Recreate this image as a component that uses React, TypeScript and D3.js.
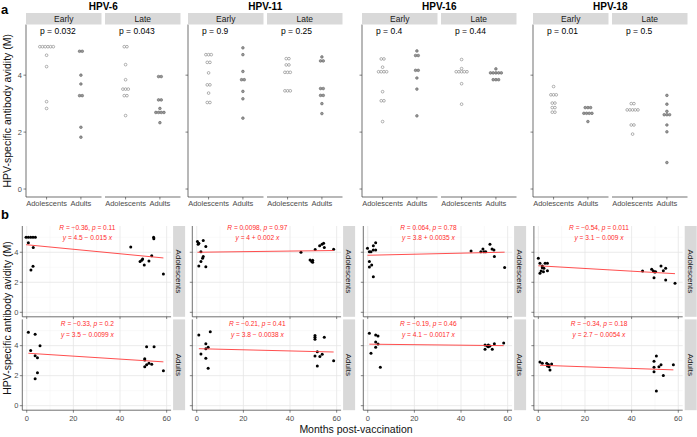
import React from 'react';
import * as d3 from 'd3';

// ---------- shared categories ----------
const hpvTypes = ['HPV-6', 'HPV-11', 'HPV-16', 'HPV-18'];
const phases = ['Early', 'Late'];
const groups = ['Adolescents', 'Adults'];

// ---------- panel a: avidity values (dot plots) ----------
const a6EarlyAdol = [5, 5, 5, 5, 5, 5, 4.7, 4.3, 3.07, 2.83];
const a6EarlyAdult = [4.84, 4.84, 4.0, 3.69, 3.28, 3.28, 2.17, 1.82];
const a6LateAdol = [5, 5, 4.37, 3.84, 3.51, 3.51, 3.51, 3.28, 3.28, 2.58];
const a6LateAdult = [3.95, 3.95, 3.13, 3.13, 2.83, 2.69, 2.69, 2.69, 2.69, 2.33];

const a11EarlyAdol = [4.72, 4.72, 4.72, 4.45, 4.45, 4.08, 3.66, 3.66, 3.37, 3.04, 3.04];
const a11EarlyAdult = [4.96, 4.72, 4.13, 3.84, 3.84, 3.43, 3.17, 2.49];
const a11LateAdol = [4.58, 4.58, 4.36, 4.36, 4.1, 4.1, 4.1, 3.45, 3.45, 3.45];
const a11LateAdult = [4.64, 4.5, 4.5, 3.53, 3.53, 3.29, 3.29, 3.0, 2.65];

const a16EarlyAdol = [4.57, 4.57, 4.28, 4.12, 4.12, 4.12, 4.12, 3.42, 3.1, 3.1, 2.37];
const a16EarlyAdult = [4.85, 4.69, 4.69, 4.17, 4.17, 3.9, 3.51, 2.57];
const a16LateAdol = [4.55, 4.23, 4.12, 4.12, 4.12, 4.12, 4.12, 3.7, 2.98];
const a16LateAdult = [4.22, 4.08, 4.08, 4.08, 4.08, 4.08, 3.84, 3.84, 3.84];

const a18EarlyAdol = [3.6, 3.31, 3.31, 3.31, 3.02, 3.02, 2.86, 2.86, 2.7, 2.7];
const a18EarlyAdult = [2.86, 2.86, 2.86, 2.66, 2.66, 2.66, 2.66, 2.37];
const a18LateAdol = [3.0, 3.0, 2.78, 2.78, 2.78, 2.78, 2.78, 2.25, 2.25, 1.93];
const a18LateAdult = [3.29, 2.98, 2.73, 2.61, 2.61, 2.61, 2.25, 2.01, 0.93];

const aPValues = [
  ['0.032', '0.043'],
  ['0.9', '0.25'],
  ['0.4', '0.44'],
  ['0.01', '0.5'],
];
const aYTicks = [0, 2, 4];

// ---------- panel b: [months, avidity] ----------
const b6Adol: [number, number][] = [
  [-0.3, 5], [0.7, 5], [1.7, 5], [2.7, 5], [3.7, 5], [0.7, 4.64], [2.8, 4.31], [1.8, 2.82], [2.7, 3.07],
  [44.6, 4.35], [48.6, 3.38], [49.3, 3.47], [49.7, 3.55], [50.4, 3.15], [52.4, 3.42], [53.6, 3.77], [54.4, 5.0], [54.5, 4.9], [58.6, 2.55],
];
const b6Adult: [number, number][] = [
  [0.7, 4.89], [3.6, 4.76], [1.7, 3.67], [5.7, 4.0], [3.6, 3.33], [4.6, 3.2], [4.6, 2.2], [3.6, 1.8],
  [50.6, 3.13], [50.6, 3.05], [50.6, 2.6], [51.4, 3.93], [51.4, 2.73], [52.4, 2.82], [53.6, 2.76], [54.6, 3.93], [58.6, 2.33],
];
const b11Adol: [number, number][] = [
  [0.3, 4.71], [0.6, 4.53], [0.9, 4.6], [2.8, 4.78], [3.9, 4.38], [1.8, 4.04], [2.8, 3.71], [2.5, 3.6], [1.8, 3.38], [0.9, 3.09], [3.9, 3.04],
  [44.7, 4.0], [48.6, 3.49], [49.3, 3.38], [49.7, 3.47], [49.7, 3.33], [50.8, 4.18], [52.7, 4.44], [53.7, 4.53], [54.4, 4.6], [54.7, 4.31], [58.7, 4.2],
];
const b11Adult: [number, number][] = [
  [0.9, 4.71], [5.8, 4.93], [3.9, 4.13], [3.9, 3.8], [4.9, 3.89], [1.8, 3.45], [3.9, 3.16], [4.9, 2.49],
  [50.7, 4.67], [50.7, 4.56], [50.7, 4.42], [54.7, 4.56], [51.7, 3.6], [50.7, 3.31], [52.8, 3.27], [53.8, 3.42], [51.7, 2.65], [58.7, 3.0],
];
const b16Adol: [number, number][] = [
  [-0.1, 4.27], [0.7, 4.04], [1.4, 4.04], [2.4, 4.44], [3.4, 4.64], [2.4, 4.15], [3.4, 4.15], [0.7, 3.38], [1.7, 3.15], [0.7, 3.02], [2.4, 2.37],
  [44.3, 4.09], [48.5, 4.04], [49.4, 4.22], [49.8, 4.04], [50.6, 4.04], [52.4, 4.53], [53.3, 4.22], [54.1, 4.15], [54.3, 3.71], [58.7, 2.98],
];
const b16Adult: [number, number][] = [
  [0.7, 4.82], [3.4, 4.71], [4.4, 4.64], [3.4, 4.24], [4.4, 4.11], [3.4, 3.89], [1.4, 3.49], [5.4, 2.56],
  [50.3, 4.05], [50.3, 3.76], [51.2, 3.98], [51.7, 3.93], [52.4, 3.98], [53.4, 3.76], [54.3, 4.13], [58.3, 4.18], [51.7, 4.05],
];
const b18Adol: [number, number][] = [
  [0, 3.6], [0.7, 3.27], [0.7, 2.6], [1.2, 2.75], [1.7, 2.97], [1.7, 3.09], [2.4, 2.93], [2.9, 3.27], [3.9, 3.27], [3.9, 2.77], [2.2, 2.71],
  [44.7, 2.75], [48.6, 2.87], [49.3, 2.75], [49.9, 2.69], [50.3, 2.71], [49.6, 2.31], [52.6, 3.09], [53.6, 2.77], [54.6, 2.93], [54.6, 2.15], [58.6, 1.93],
];
const b18Adult: [number, number][] = [
  [0.7, 2.91], [1.7, 2.82], [3.6, 2.82], [3.9, 2.65], [4.6, 2.6], [5.0, 2.38], [5.7, 2.78], [4.3, 2.74],
  [49.6, 2.96], [49.6, 2.56], [49.6, 2.27], [50.6, 3.31], [51.7, 2.6], [52.6, 2.73], [53.6, 2.02], [50.6, 0.98], [57.9, 2.73],
];

const bR = [['−0.36', '−0.33'], ['0.0098', '−0.21'], ['0.064', '−0.19'], ['−0.54', '−0.34']];
const bP = [['0.11', '0.2'], ['0.97', '0.41'], ['0.78', '0.46'], ['0.011', '0.18']];
const bIntercept = [[4.5, 3.5], [4, 3.8], [3.8, 4.1], [3.1, 2.7]];
const bSlope = [[-0.015, -0.0099], [0.002, -0.0038], [0.0035, -0.0017], [-0.009, -0.0054]];
const bXTicks = [0, 20, 40, 60];
const bXMinor = [10, 30, 50];
const bYTicks = [0, 2, 4];
const bYMinor = [1, 3, 5];

// ---------- assembled ----------
const aData = [
  [[a6EarlyAdol, a6EarlyAdult], [a6LateAdol, a6LateAdult]],
  [[a11EarlyAdol, a11EarlyAdult], [a11LateAdol, a11LateAdult]],
  [[a16EarlyAdol, a16EarlyAdult], [a16LateAdol, a16LateAdult]],
  [[a18EarlyAdol, a18EarlyAdult], [a18LateAdol, a18LateAdult]],
];
const bData = [
  [b6Adol, b6Adult],
  [b11Adol, b11Adult],
  [b16Adol, b16Adult],
  [b18Adol, b18Adult],
];

const FONT = "'Liberation Sans', Arial, Helvetica, sans-serif";
const AX = '#4d4d4d';

// layout
const aLefts = [26, 188, 362, 533];
const aFacetW = 75.5;
const aGap = 3.5;
const aTop = 24.5;
const aBottom = 197;
const bLefts = [22.3, 192.3, 363.3, 533.9];
const bW = 148.8;
const bRowTops = [226, 319.4];
const bH = 90.8;

function stackDots(vals: number[]) {
  const counts = new Map<number, number>();
  vals.forEach((v) => counts.set(v, (counts.get(v) || 0) + 1));
  const out: { v: number; k: number; n: number }[] = [];
  counts.forEach((n, v) => {
    for (let k = 0; k < n; k++) out.push({ v, k, n });
  });
  return out;
}

function fmtSlope(b: number) {
  return `${Math.abs(b)}`;
}

export default function App() {
  const ya = d3.scaleLinear().domain([-0.28, 5.78]).range([aBottom, aTop]);
  const dotSpacing = 2.7;
  const dotR = 1.35;

  const bx = d3.scaleLinear().domain([-1.9, 61.9]).range([0, bW]);
  const by = d3.scaleLinear().domain([-0.3, 5.75]).range([bH, 0]);

  return (
    <svg width={697} height={437} style={{ position: 'absolute', left: 0, top: 0, fontFamily: FONT }}>
      <rect width={697} height={437} fill="#fff" />
      {/* ================= Panel a ================= */}
      <text x={1} y={14} fontSize={13} fontWeight="bold">a</text>
      <text transform={`translate(11,${(aTop + aBottom) / 2}) rotate(-90)`} textAnchor="middle" fontSize={10.5} fill="#111">
        HPV-specific antibody avidity (M)
      </text>
      {hpvTypes.map((t, ti) => {
        const L = aLefts[ti];
        const groupW = aFacetW * 2 + aGap;
        return (
          <g key={t}>
            <text x={L + groupW / 2} y={10} textAnchor="middle" fontSize={10} fontWeight="bold">{t}</text>
            {/* y axis */}
            <line x1={L} x2={L} y1={aTop} y2={aBottom} stroke="#333" strokeWidth={0.7} />
            {aYTicks.map((v) => (
              <g key={v}>
                <line x1={L - 2.5} x2={L} y1={ya(v)} y2={ya(v)} stroke="#333" strokeWidth={0.6} />
                {ti === 0 && (
                  <text x={L - 4} y={ya(v) + 2.6} textAnchor="end" fontSize={7.5} fill={AX}>{v}</text>
                )}
              </g>
            ))}
            {phases.map((ph, pi) => {
              const fl = L + pi * (aFacetW + aGap);
              const xa = d3.scalePoint<string>().domain(groups).range([fl, fl + aFacetW]).padding(0.6);
              return (
                <g key={ph}>
                  <rect x={fl} y={13} width={aFacetW} height={11.5} fill="#d9d9d9" />
                  <text x={fl + aFacetW / 2} y={21.8} textAnchor="middle" fontSize={8.5} fill="#1a1a1a">{ph}</text>
                  <text x={fl + 14} y={34} fontSize={8.5} fill="#000">{`p = ${aPValues[ti][pi]}`}</text>
                  <line x1={fl} x2={fl + aFacetW} y1={aBottom} y2={aBottom} stroke="#333" strokeWidth={0.7} />
                  {groups.map((g, gi) => {
                    const cx = xa(g) as number;
                    const dots = stackDots(aData[ti][pi][gi]);
                    return (
                      <g key={g}>
                        <line x1={cx} x2={cx} y1={aBottom} y2={aBottom + 2.5} stroke="#333" strokeWidth={0.6} />
                        <text x={cx} y={206} textAnchor="middle" fontSize={7.5} fill={AX}>{g}</text>
                        {dots.map((d, di) => (
                          <circle
                            key={di}
                            cx={cx + (d.k - (d.n - 1) / 2) * dotSpacing}
                            cy={ya(d.v)}
                            r={dotR}
                            fill={gi === 0 ? '#fff' : '#9a9a9a'}
                            stroke={gi === 0 ? '#666' : '#555'}
                            strokeWidth={0.5}
                          />
                        ))}
                      </g>
                    );
                  })}
                </g>
              );
            })}
          </g>
        );
      })}

      {/* ================= Panel b ================= */}
      <text x={1} y={219} fontSize={13} fontWeight="bold">b</text>
      <text transform={`translate(11,${(bRowTops[0] + bRowTops[1] + bH) / 2}) rotate(-90)`} textAnchor="middle" fontSize={10.5} fill="#111">
        HPV-specific antibody avidity (M)
      </text>
      <text x={356} y={433} textAnchor="middle" fontSize={10.5} fill="#111">Months post-vaccination</text>
      {hpvTypes.map((t, ti) => (
        <g key={t}>
          {groups.map((g, gi) => {
            const L = bLefts[ti];
            const T = bRowTops[gi];
            const pts = bData[ti][gi];
            const xs = pts.map((p) => p[0]);
            const x0 = d3.min(xs) as number;
            const x1 = d3.max(xs) as number;
            const a0 = bIntercept[ti][gi];
            const b1 = bSlope[ti][gi];
            const line = d3.line<number>().x((x) => bx(x)).y((x) => by(a0 + b1 * x));
            return (
              <g key={g} transform={`translate(${L},${T})`}>
                <rect width={bW} height={bH} fill="#fff" />
                {bXMinor.map((v) => (
                  <line key={'xm' + v} x1={bx(v)} x2={bx(v)} y1={0} y2={bH} stroke="#f2f2f2" strokeWidth={0.5} />
                ))}
                {bYMinor.map((v) => (
                  <line key={'ym' + v} x1={0} x2={bW} y1={by(v)} y2={by(v)} stroke="#f2f2f2" strokeWidth={0.5} />
                ))}
                {bXTicks.map((v) => (
                  <line key={'xM' + v} x1={bx(v)} x2={bx(v)} y1={0} y2={bH} stroke="#e6e6e6" strokeWidth={0.8} />
                ))}
                {bYTicks.map((v) => (
                  <line key={'yM' + v} x1={0} x2={bW} y1={by(v)} y2={by(v)} stroke="#e6e6e6" strokeWidth={0.8} />
                ))}
                <line x1={0} x2={0} y1={0} y2={bH} stroke="#333" strokeWidth={0.7} />
                <line x1={0} x2={bW} y1={bH} y2={bH} stroke="#333" strokeWidth={0.7} />
                {bYTicks.map((v) => (
                  <g key={'yt' + v}>
                    <line x1={-2.5} x2={0} y1={by(v)} y2={by(v)} stroke="#333" strokeWidth={0.6} />
                    {ti === 0 && (
                      <text x={-4} y={by(v) + 2.6} textAnchor="end" fontSize={7.5} fill={AX}>{v}</text>
                    )}
                  </g>
                ))}
                {bXTicks.map((v) => (
                  <g key={'xt' + v}>
                    <line x1={bx(v)} x2={bx(v)} y1={bH} y2={bH + 2.5} stroke="#333" strokeWidth={0.6} />
                    {gi === 1 && (
                      <text x={bx(v)} y={bH + 10.5} textAnchor="middle" fontSize={7.5} fill={AX}>{v}</text>
                    )}
                  </g>
                ))}
                {pts.map((p, i) => (
                  <circle key={i} cx={bx(p[0])} cy={by(p[1])} r={1.5} fill="#000" />
                ))}
                <path d={line([x0, x1]) || ''} stroke="#ff3b3b" strokeWidth={0.9} fill="none" />
                <text x={bx(26)} y={gi === 0 ? 3.9 : 7.0} textAnchor="middle" fontSize={6.6} fill="#ff2a2a">
                  <tspan fontStyle="italic">R</tspan>
                  {` = ${bR[ti][gi]}, `}
                  <tspan fontStyle="italic">p</tspan>
                  {` = ${bP[ti][gi]}`}
                </text>
                <text x={bx(26)} y={gi === 0 ? 14.3 : 17.4} textAnchor="middle" fontSize={6.6} fill="#ff2a2a">
                  <tspan fontStyle="italic">y</tspan>
                  {` = ${a0} ${b1 < 0 ? '−' : '+'} ${fmtSlope(b1)} `}
                  <tspan fontStyle="italic">x</tspan>
                </text>
                {/* right strip */}
                <rect x={bW + 2} y={0} width={12} height={bH} fill="#d9d9d9" />
                <text transform={`translate(${bW + 5.2},${bH / 2}) rotate(90)`} textAnchor="middle" fontSize={8} fill="#1a1a1a">
                  {g}
                </text>
              </g>
            );
          })}
        </g>
      ))}
    </svg>
  );
}
